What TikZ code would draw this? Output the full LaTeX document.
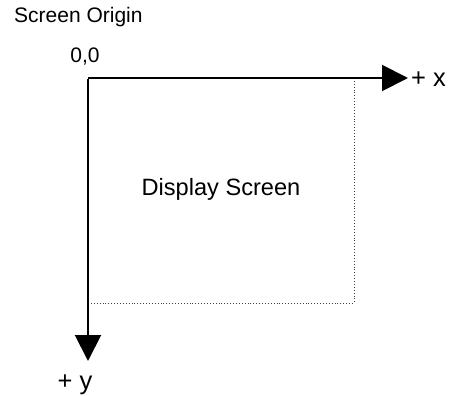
\documentclass[tikz,border=0pt]{standalone}
\usepackage{fontspec}
\setmainfont{Liberation Sans}
\usetikzlibrary{arrows.meta}
\begin{document}
\begin{tikzpicture}[x=1pt,y=-1pt,
  axis/.style={line width=2pt,-{Triangle[length=26pt,width=26pt]}},
  screenedge/.style={dotted,line width=0.9pt,black!75},
  lbl/.style={inner sep=0pt,font=\fontsize{21}{24}\selectfont},
  biglbl/.style={inner sep=0pt,font=\fontsize{23.6}{27}\selectfont},
  axlbl/.style={inner sep=0pt,font=\fontsize{25.5}{29}\selectfont}]
\useasboundingbox (0,0) rectangle (453,396);
\coordinate (o) at (88,78);
\coordinate (xend) at (408,78);
\coordinate (yend) at (88,361);
\coordinate (tr) at (354,78);
\coordinate (br) at (354,303);
\coordinate (bl) at (88,303);
\draw[screenedge] (tr) -- (br) -- (bl);
\draw[axis] (o) -- (xend);
\draw[axis] ([yshift=-1pt]o) -- (yend);
\node[lbl,anchor=west] (so) at (14,17) {Screen Origin};
\node[lbl] (zero) at (85,57) {0,0};
\node[axlbl,anchor=west] (px) at (411,79) {+ x};
\node[axlbl] (py) at (75,385) {+ y};
\node[biglbl] (ds) at (221,189) {Display Screen};
\end{tikzpicture}
\end{document}
